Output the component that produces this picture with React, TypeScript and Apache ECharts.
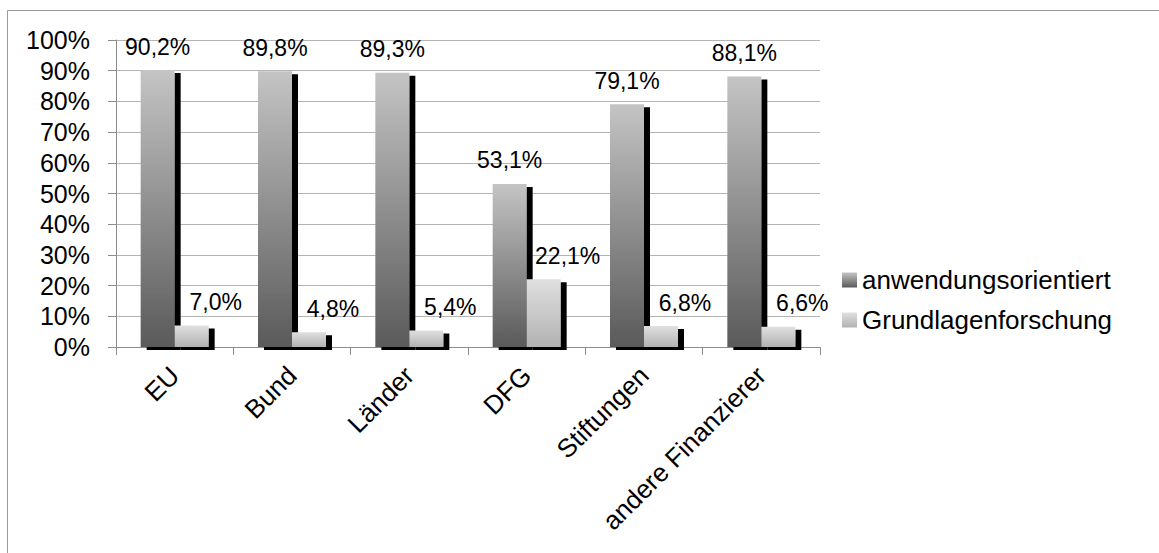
import React, { useEffect, useRef } from "react";
import * as echarts from "echarts";

const categories = ["EU", "Bund", "Länder", "DFG", "Stiftungen", "andere Finanzierer"];
const anwendungsorientiert = [90.2, 89.8, 89.3, 53.1, 79.1, 88.1];
const grundlagenforschung = [7.0, 4.8, 5.4, 22.1, 6.8, 6.6];
const seriesNames = ["anwendungsorientiert", "Grundlagenforschung"];

const FONT = "'Liberation Sans', Arial, sans-serif";

const fmt = (v: number) => v.toFixed(1).replace(".", ",") + "%";

export default function App() {
  const ref = useRef<HTMLDivElement>(null);
  useEffect(() => {
    if (!ref.current) return;
    const chart = echarts.init(ref.current, null, { renderer: "svg" });
    const grad1 = new echarts.graphic.LinearGradient(0, 0, 0, 1, [
      { offset: 0, color: "#c4c4c4" },
      { offset: 1, color: "#5a5a5a" },
    ]);
    const grad2 = new echarts.graphic.LinearGradient(0, 0, 0, 1, [
      { offset: 0, color: "#e0e0e0" },
      { offset: 1, color: "#b2b2b2" },
    ]);
    chart.setOption({
      animation: false,
      backgroundColor: "#ffffff",
      textStyle: { fontFamily: FONT },
      graphic: [
        {
          type: "rect",
          shape: { x: 7.5, y: 10.5, width: 1300, height: 700 },
          style: { fill: "none", stroke: "#9a9a9a", lineWidth: 1 },
          silent: true,
        },
      ],
      grid: { left: 116, top: 40, right: 339, bottom: 206, containLabel: false },
      legend: {
        orient: "vertical",
        left: 837,
        top: 262,
        itemWidth: 15,
        itemHeight: 15,
        itemGap: 14,
        icon: "rect",
        textStyle: { fontFamily: FONT, fontSize: 26, color: "#000" },
        data: seriesNames,
      },
      xAxis: {
        type: "category",
        data: categories,
        axisLine: { lineStyle: { color: "#8c8c8c", width: 1 } },
        axisTick: { show: true, length: 8, lineStyle: { color: "#8c8c8c" } },
        axisLabel: {
          rotate: 45,
          interval: 0,
          margin: 24,
          fontFamily: FONT,
          fontSize: 26,
          color: "#000",
        },
      },
      yAxis: {
        type: "value",
        min: 0,
        max: 100,
        interval: 10,
        axisLine: { show: true, lineStyle: { color: "#8c8c8c", width: 1 } },
        axisTick: { show: true, length: 8, inside: false, lineStyle: { color: "#8c8c8c" } },
        splitLine: { lineStyle: { color: "#b4b4b4", width: 1 } },
        axisLabel: {
          formatter: "{value}%",
          margin: 26,
          fontFamily: FONT,
          fontSize: 25,
          color: "#000",
        },
      },
      series: [
        {
          name: seriesNames[0],
          type: "bar",
          data: anwendungsorientiert,
          barWidth: 34,
          barGap: "0%",
          itemStyle: {
            color: grad1,
            shadowColor: "#000",
            shadowOffsetX: 6,
            shadowOffsetY: 3,
            shadowBlur: 0,
          },
          label: {
            show: true,
            position: "top",
            distance: 12,
            fontFamily: FONT,
            fontSize: 23,
            color: "#000",
            formatter: (p: any) => fmt(p.value),
          },
        },
        {
          name: seriesNames[1],
          type: "bar",
          data: grundlagenforschung,
          barWidth: 34,
          barGap: "0%",
          itemStyle: {
            color: grad2,
            shadowColor: "#000",
            shadowOffsetX: 6,
            shadowOffsetY: 3,
            shadowBlur: 0,
          },
          label: {
            show: true,
            position: "top",
            distance: 12,
            offset: [24, 0],
            fontFamily: FONT,
            fontSize: 23,
            color: "#000",
            formatter: (p: any) => fmt(p.value),
          },
        },
      ],
    });
    return () => chart.dispose();
  }, []);
  return (
    <div
      ref={ref}
      style={{ position: "fixed", left: 0, top: 0, width: 1159, height: 553 }}
    />
  );
}
